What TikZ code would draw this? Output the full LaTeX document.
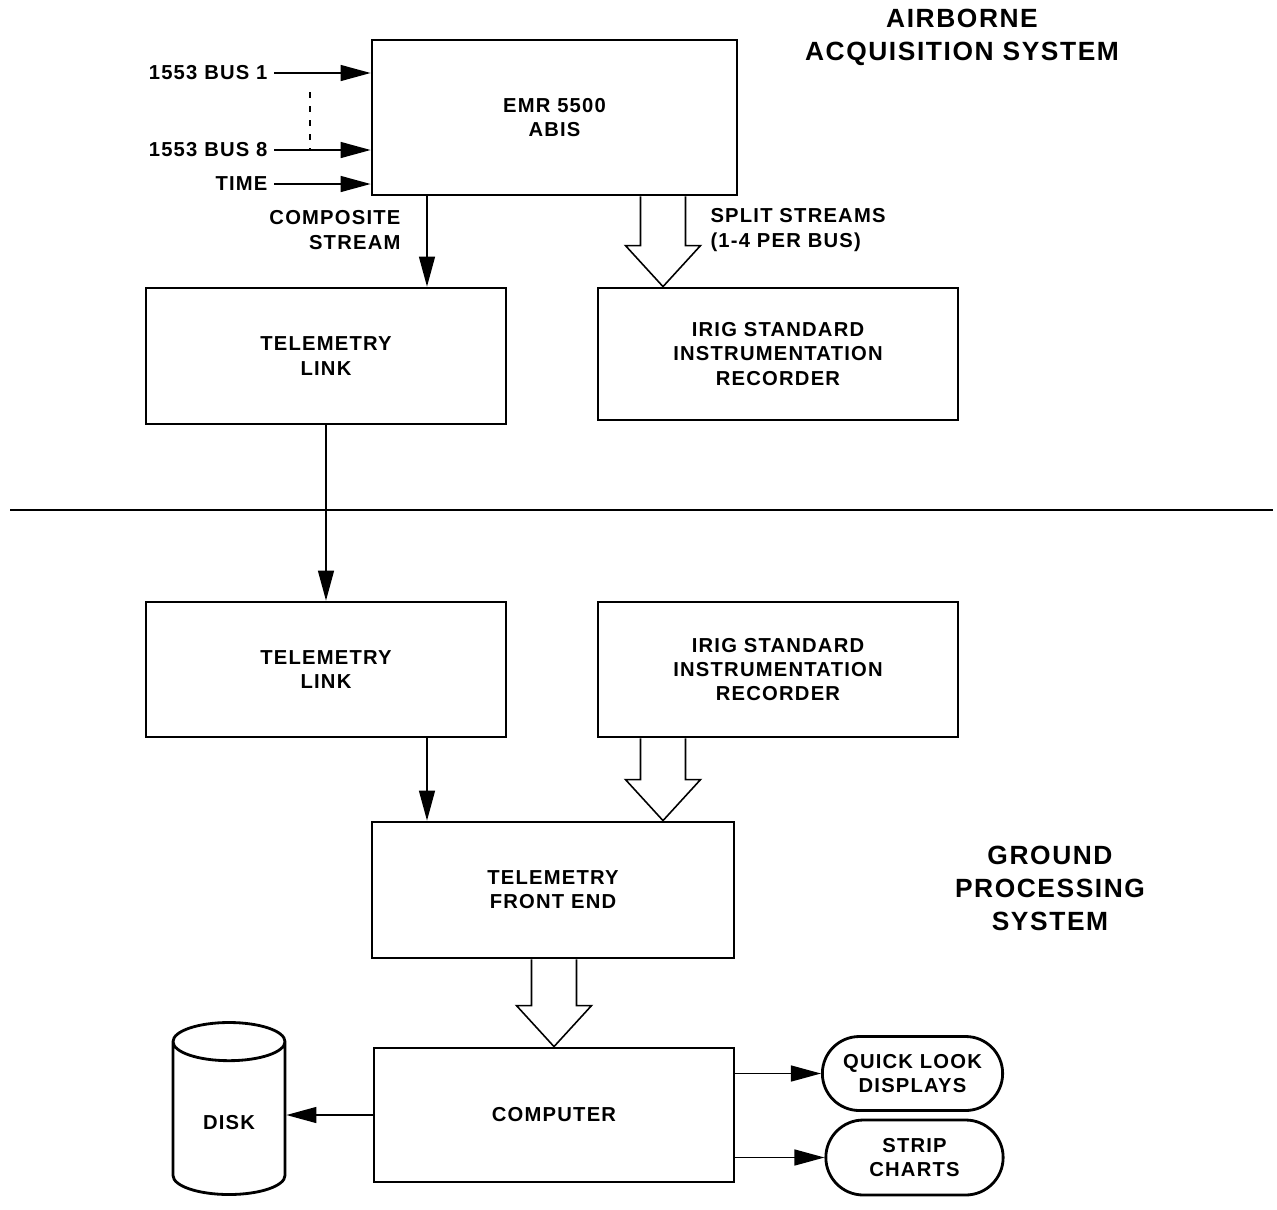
\documentclass[tikz,border=0pt]{standalone}
\usepackage{fontspec}
\setmainfont{Liberation Sans}[LetterSpace=6]
\usetikzlibrary{arrows.meta, shapes.geometric, shapes.misc, calc}
\newcommand{\fatarrow}[2]{%
	\draw [line width=0.9pt] let \p1=(#1), \p2=(#2) in
		(\x2-4.5mm,\y1) -- (\x2-4.5mm,\y2+8.2mm) -- (\x2-7.5mm,\y2+8.2mm) -- (\x2,\y2)
		-- (\x2+7.5mm,\y2+8.2mm) -- (\x2+4.5mm,\y2+8.2mm) -- (\x2+4.5mm,\y1);}

\begin{document}
\begin{tikzpicture}[x=0.2mm, y=-0.2mm, line width=0.8pt,
	>={Triangle[length=6mm, width=3.2mm]},
	lbl/.style={font=\fontsize{11.5}{13.7}\selectfont\bfseries, align=center},
	box/.style={lbl, draw, line width=1.6pt, minimum width=72mm, minimum height=27.2mm},
	title/.style={font=\fontsize{15}{18.8}\selectfont\bfseries, align=center}]
	\useasboundingbox (0,0) rectangle (1277,1209);
	\node [box, minimum width=73mm, minimum height=31mm] (emr) at (554.5,117.5) {EMR 5500\\ABIS};
	\node [title] (air) at (962,37.5) {AIRBORNE\\ACQUISITION SYSTEM};
	\node [lbl, anchor=east] (bus1) at (274,73) {1553 BUS 1};
	\node [lbl, anchor=east] (bus8) at (274,150) {1553 BUS 8};
	\node [lbl, anchor=east] (time) at (274,184) {TIME};
	\draw [->] (bus1.east) -- (bus1.east -| emr.west);
	\draw [->] (bus8.east) -- (bus8.east -| emr.west);
	\draw [->] (time.east) -- (time.east -| emr.west);
	\draw [dash pattern=on 1.2mm off 1.6mm] (310,92) -- (310,150);
	\coordinate (cx) at (427,0);
	\coordinate (sx) at (663,0);
	\node [box] (tm1) at (326,356) {TELEMETRY\\LINK};
	\node [box, minimum height=26.4mm] (rec1) at (778,354) {IRIG STANDARD\\INSTRUMENTATION\\RECORDER};
	\draw [->] (emr.south -| cx) -- (tm1.north -| cx);
	\node [lbl, anchor=east, align=right] (complbl) at (407,230) {COMPOSITE\\STREAM};
	\fatarrow{emr.south -| sx}{rec1.north -| sx}
	\node [lbl, anchor=west, align=left] (splitlbl) at (704,230) {SPLIT STREAMS\\(1-4 PER BUS)};
	\draw (10,510) -- (1273,510);
	\node [box, minimum height=27mm] (tm2) at (326,669.5) {TELEMETRY\\LINK};
	\node [box, minimum height=27mm] (rec2) at (778,669.5) {IRIG STANDARD\\INSTRUMENTATION\\RECORDER};
	\draw [->] (tm1.south) -- (tm2.north);
	\node [box, minimum width=72.4mm] (fe) at (553,890) {TELEMETRY\\FRONT END};
	\node [title] (gnd) at (1050,888) {GROUND\\PROCESSING\\SYSTEM};
	\draw [->] (tm2.south -| cx) -- (fe.north -| cx);
	\fatarrow{rec2.south -| sx}{fe.north -| sx}
	\node [box, minimum height=26.8mm] (comp) at (554,1115) {COMPUTER};
	\fatarrow{fe.south}{comp.north}
	\node [lbl, draw, line width=1.6pt, cylinder, shape border rotate=90, aspect=0.6,
		minimum width=22.4mm, minimum height=34.4mm] (disk) at (229,1123) {DISK};
	\draw [->] (comp.west) -- (comp.west -| disk.east);
	\node [lbl, draw, line width=1.6pt, rounded rectangle, minimum width=38.4mm, minimum height=14.8mm] (ql) at (912.5,1073.5) {QUICK LOOK\\DISPLAYS};
	\node [lbl, draw, line width=1.6pt, rounded rectangle, minimum width=37.8mm, minimum height=15mm] (strip) at (914.5,1157.5) {STRIP\\CHARTS};
	\draw [->] (comp.east |- ql.west) -- (ql.west);
	\draw [->] (comp.east |- strip.west) -- (strip.west);
\end{tikzpicture}
\end{document}
